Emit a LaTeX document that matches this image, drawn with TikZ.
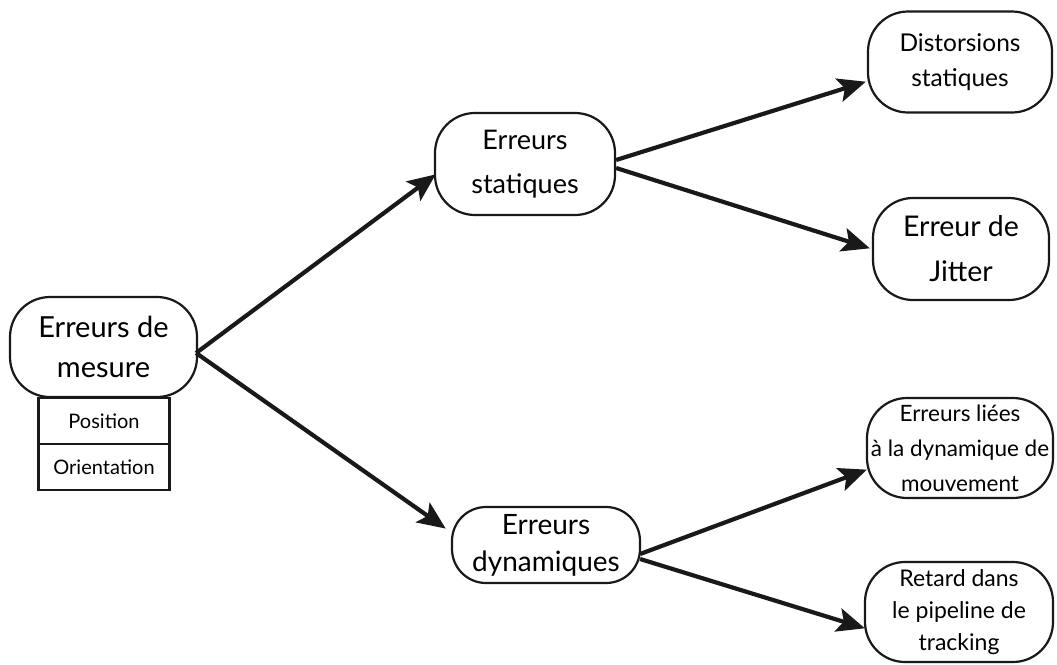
\documentclass[tikz,border=0pt]{standalone}
\usepackage{fontspec}
\setmainfont{Lato}
\usetikzlibrary{arrows.meta,calc}
\tikzset{
  rbox/.style={draw=black!90, line width=2.2pt, rounded corners=40pt, align=center, inner sep=0pt, fill=white},
  sbox/.style={draw=black!90, line width=2.2pt, align=center, inner sep=0pt, minimum width=131pt, minimum height=46pt, font=\fontsize{20}{24}\selectfont},
  conn/.style={draw=black!90, line width=4.2pt, -{Stealth[length=28pt,width=24pt,inset=6pt]}, shorten >=-1pt}
}
\begin{document}
\begin{tikzpicture}[x=1pt,y=-1pt]
\useasboundingbox (0,0) rectangle (1057,664);
% nodes
\node[rbox, minimum width=187pt, minimum height=100pt, font=\fontsize{29}{40}\selectfont] (m) at (103.5,347) {Erreurs de\\mesure};
\node[sbox, anchor=north] (p) at (104,397) {Position};
\node[sbox, anchor=north] (o) at (104,443) {Orientation};
\node[rbox, minimum width=180pt, minimum height=102pt, font=\fontsize{27}{44}\selectfont] (s) at (525,164) {Erreurs\\statiques};
\node[rbox, minimum width=188pt, minimum height=76pt, rounded corners=34pt, font=\fontsize{28}{37}\selectfont] (d) at (546,545) {Erreurs\\dynamiques};
\node[rbox, minimum width=184pt, minimum height=101pt, font=\fontsize{24.5}{35}\selectfont] (ds) at (960,62) {Distorsions\\statiques};
\node[rbox, minimum width=176pt, minimum height=102pt, font=\fontsize{28.5}{45}\selectfont] (j) at (961,249) {Erreur de\\Jitter};
\node[rbox, minimum width=186pt, minimum height=100pt, font=\fontsize{22.5}{35}\selectfont] (l) at (960,448) {Erreurs liées\\à la dynamique de\\mouvement};
\node[rbox, minimum width=188pt, minimum height=100pt, font=\fontsize{23}{32}\selectfont] (r) at (959,612) {Retard dans\\le pipeline de\\tracking};
% connectors
\coordinate (ms) at ($(m.east)+(-2,6)$);
\draw[conn] (ms) -- ($(s.west)+(1,11)$);
\draw[conn] (ms) -- ($(d.west)+(-6,-17)$);
\draw[conn] ($(s.east)+(0,-4)$) -- ($(ds.west)+(-2,20)$);
\draw[conn] ($(s.east)+(0,4)$) -- ($(j.west)+(-3,-1)$);
\draw[conn] ($(d.east)+(-1,9)$) -- ($(l.west)+(0,22)$);
\draw[conn] ($(d.east)+(-1,14)$) -- ($(r.west)+(0,16)$);
\end{tikzpicture}
\end{document}
